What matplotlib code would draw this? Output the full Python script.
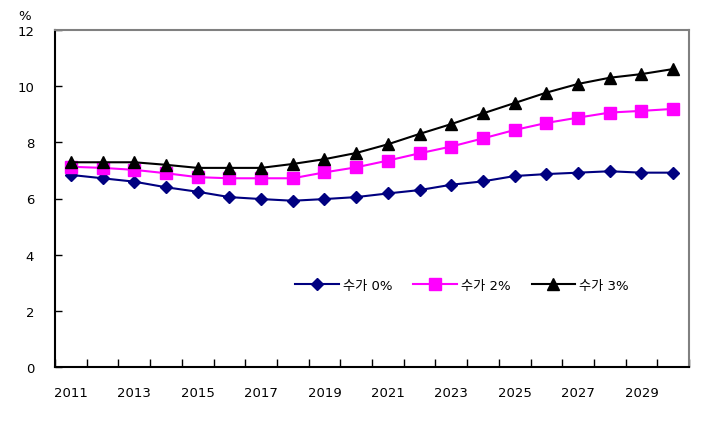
import numpy as np
import matplotlib
matplotlib.use('Agg')
import matplotlib.pyplot as plt

plt.rcParams['font.family'] = ['DejaVu Sans', 'Noto Sans CJK KR']

years = list(range(2011, 2031))
tick_years = [str(y) if y % 2 == 1 else '' for y in years]

rate_0 = [6.84, 6.72, 6.60, 6.40, 6.24, 6.05, 5.98, 5.92, 5.98, 6.05,
          6.18, 6.30, 6.49, 6.61, 6.80, 6.87, 6.92, 6.97, 6.92, 6.92]
rate_2 = [7.13, 7.09, 7.02, 6.90, 6.76, 6.72, 6.72, 6.72, 6.93, 7.11,
          7.35, 7.61, 7.85, 8.14, 8.44, 8.69, 8.88, 9.06, 9.12, 9.19]
rate_3 = [7.29, 7.29, 7.29, 7.20, 7.09, 7.09, 7.09, 7.23, 7.40, 7.62,
          7.93, 8.30, 8.65, 9.03, 9.40, 9.77, 10.08, 10.30, 10.43, 10.61]
labels = ['수가 0%', '수가 2%', '수가 3%']

fig = plt.figure(figsize=(7.18, 4.31), dpi=100)
ax = fig.add_axes([55/718, 1 - 368/431, (689 - 55)/718, (368 - 31)/431])

x = np.arange(len(years))
ax.plot(x, rate_0, color='#000080', lw=1.5, marker='D', ms=6.5, label=labels[0])
ax.plot(x, rate_2, color='#FF00FF', lw=1.5, marker='s', ms=8, label=labels[1])
ax.plot(x, rate_3, color='black', lw=1.5, marker='^', ms=8.5, label=labels[2])

ax.set_xlim(-0.5, len(years) - 0.5)
ax.set_ylim(0, 12)
ax.set_yticks(range(0, 13, 2))
ax.set_xticks(x)
ax.set_xticklabels(tick_years, fontsize=9.5)
ax.set_xticks(np.arange(-0.5, len(years)), minor=True)
ax.tick_params(axis='x', which='major', length=0, pad=14)
ax.tick_params(axis='x', which='minor', direction='in', length=6, width=1)
ax.tick_params(axis='y', direction='in', length=5, width=1, labelsize=9.5, pad=15)

for s in ['left', 'bottom']:
    ax.spines[s].set_color('black')
    ax.spines[s].set_linewidth(1.5)
for s in ['top', 'right']:
    ax.spines[s].set_color('#808080')
    ax.spines[s].set_linewidth(1.5)

fig.text(25/718, 1 - 17/431, '%', fontsize=9.5, ha='center', va='center')

ax.legend(loc='center', bbox_to_anchor=(0.642, 0.243), ncol=3, frameon=False,
          fontsize=9.5, handlelength=3.3, columnspacing=1.6, handletextpad=0.3)

fig.savefig('out.png', dpi=100)
